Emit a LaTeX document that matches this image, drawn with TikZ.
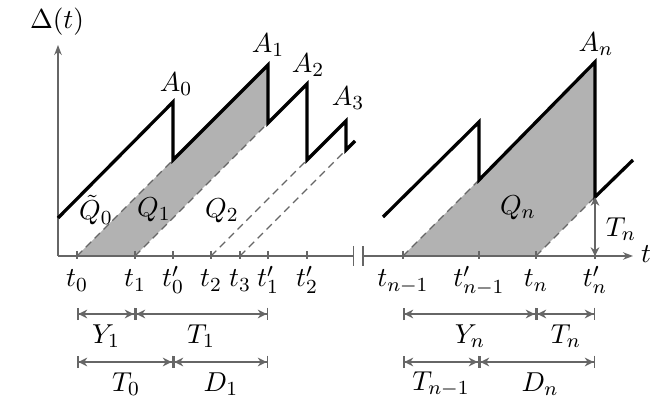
\documentclass[tikz,border=0pt]{standalone}
\usetikzlibrary{arrows.meta,calc}
\begin{document}
\begin{tikzpicture}[x=0.4pt,y=-0.4pt,
  axisline/.style={draw=black!60,line width=0.6pt},
  saw/.style={draw=black,line width=1.3pt,line join=miter},
  dashln/.style={draw=black!60,line width=0.5pt,dash pattern=on 3pt off 2pt},
  greyfill/.style={fill=black!30},
  tickmark/.style={draw=black!60,line width=0.5pt},
  lbl/.style={inner sep=1pt,font=\fontsize{11}{13}\selectfont},
  spanarrow/.style={draw=black!60,line width=0.6pt,{Bar[width=5pt]Stealth[length=3.5pt,width=3.5pt]}-{Stealth[length=3.5pt,width=3.5pt]Bar[width=5pt]}}
]
\useasboundingbox (0,0) rectangle (662,399);
% coordinates
\coordinate (O) at (58,256);
\coordinate (ytop) at (58,45);
\coordinate (xend1) at (354,256);
\coordinate (xbeg2) at (362,256);
\coordinate (xend2) at (633,256);
\foreach \n/\x in {t0/77,t1/135,t0p/173,t2/211,t3/240,t1p/268,t2p/307,tn1/403,tn1p/479,tn/536,tnp/595}{
  \coordinate (\n) at (\x,256);
}
% saw corner points
\coordinate (s0) at (58,218);
\coordinate (a0) at (173,102);
\coordinate (b0) at (173,160);
\coordinate (a1) at (268,65);
\coordinate (b1) at (268,123);
\coordinate (a2) at (307,84);
\coordinate (b2) at (307,160);
\coordinate (a3) at (346,121);
\coordinate (b3) at (346,150);
\coordinate (e3) at (355,141);
\coordinate (r0) at (383,217);
\coordinate (ra) at (479,122);
\coordinate (rb) at (479,180);
\coordinate (ran) at (595,62);
\coordinate (rbn) at (595,197);
\coordinate (re) at (633,160);
% shading
\path[greyfill] (t0) -- (b0) -- (a1) -- (b1) -- (t1) -- cycle;
\path[greyfill] (tn1) -- (rb) -- (ran) -- (rbn) -- (tn) -- cycle;
% dashed
\draw[dashln] (t0) -- (b0);
\draw[dashln] (t1) -- (b1);
\draw[dashln] (t2) -- (b2);
\draw[dashln] (t3) -- (b3);
\draw[dashln] (tn1) -- (rb);
\draw[dashln] (tn) -- (rbn);
% axes
\draw[axisline,-{Stealth[length=4pt,width=3pt,open]}] (O) -- (ytop);
\draw[axisline,-{Bar[width=8pt]}] (O) -- (xend1);
\draw[axisline,{Bar[width=8pt]}-{Stealth[length=4pt,width=3pt,open]}] (xbeg2) -- (xend2);
\foreach \n in {t0,t1,t0p,t2,t3,t1p,t2p,tn1,tn1p,tn,tnp}{
  \draw[tickmark] (\n) ++(0,-5) -- ++(0,8);
}
% saws
\draw[saw] (s0) -- (a0) -- (b0) -- (a1) -- (b1) -- (a2) -- (b2) -- (a3) -- (b3) -- (e3);
\draw[saw] (r0) -- (ra) -- (rb) -- (ran) -- (rbn) -- (re);
% Tn arrow
\draw[draw=black!60,line width=0.6pt,{Stealth[length=3.5pt,width=3.5pt]}-{Stealth[length=3.5pt,width=3.5pt]}] (tnp) -- (rbn);
% labels
\node[lbl] (ylab) at (57,22) {$\Delta(t)$};
\node[lbl] (tlab) at (646,254) {$t$};
\node[lbl] (lA0) at (176,84) {$A_0$};
\node[lbl] (lA1) at (268,45) {$A_1$};
\node[lbl] (lA2) at (308,65) {$A_2$};
\node[lbl] (lA3) at (348,98) {$A_3$};
\node[lbl] (lAn) at (596,44) {$A_n$};
\node[lbl] (lQ0) at (96,210) {$\tilde{Q}_0$};
\node[lbl] (lQ1) at (154,210) {$Q_1$};
\node[lbl] (lQ2) at (222,211) {$Q_2$};
\node[lbl] (lQn) at (518,208) {$Q_n$};
\node[lbl] (lTn) at (621,229) {$T_n$};
\foreach \n/\t in {t0/t_0,t1/t_1,t0p/t'_0,t2/t_2,t3/t_3,t1p/t'_1,t2p/t'_2,tn1/t_{n-1},tn1p/t'_{n-1},tn/t_n,tnp/t'_n}{
  \node[lbl,anchor=base] at ($(\n)+(0,31)$) {$\t$};
}
% spans
\coordinate (u0) at (77,314); \coordinate (u1) at (135,314); \coordinate (u2) at (268,314);
\coordinate (v0) at (77,362); \coordinate (v1) at (173,362); \coordinate (v2) at (268,362);
\coordinate (w0) at (403,314); \coordinate (w1) at (536,314); \coordinate (w2) at (595,314);
\coordinate (z0) at (403,362); \coordinate (z1) at (479,362); \coordinate (z2) at (595,362);
\draw[spanarrow] (u0) -- (u1); \draw[spanarrow] (u1) -- (u2);
\draw[spanarrow] (v0) -- (v1); \draw[spanarrow] (v1) -- (v2);
\draw[spanarrow] (w0) -- (w1); \draw[spanarrow] (w1) -- (w2);
\draw[spanarrow] (z0) -- (z1); \draw[spanarrow] (z1) -- (z2);
\node[lbl] (lY1) at (106,336) {$Y_1$};
\node[lbl] (lT1) at (201,336) {$T_1$};
\node[lbl] (lT0) at (126,384) {$T_0$};
\node[lbl] (lD1) at (221,384) {$D_1$};
\node[lbl] (lYn) at (470,336) {$Y_n$};
\node[lbl] (lTn2) at (566,336) {$T_n$};
\node[lbl] (lTn1) at (441,384) {$T_{n-1}$};
\node[lbl] (lDn) at (540,384) {$D_n$};
\end{tikzpicture}
\end{document}
